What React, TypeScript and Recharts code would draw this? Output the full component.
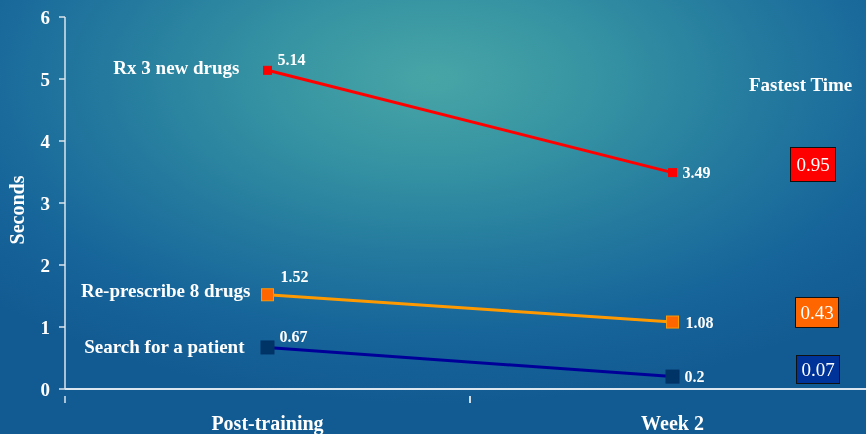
import React from "react";
import { LineChart, Line, XAxis, YAxis, Label, LabelList } from "recharts";

const categories = ["Post-training", "Week 2"];
const seriesNames = ["Rx 3 new drugs", "Re-prescribe 8 drugs", "Search for a patient"];
const rxValues = [5.14, 3.49];
const reValues = [1.52, 1.08];
const searchValues = [0.67, 0.2];
const fastestTimes = [0.95, 0.43, 0.07];
const yTicks = [0, 1, 2, 3, 4, 5, 6];

const data = categories.map((c, i) => ({
  cat: c,
  rx: rxValues[i],
  re: reValues[i],
  search: searchValues[i],
}));

const FONT = "'Liberation Serif', 'DejaVu Serif', serif";

const seriesStyle = [
  { key: "rx", stroke: "#ff0000", fill: "#ff0000", border: "#ff0000", size: 8, nameDx: -28, nameDy: -3, v0dx: 10, v0dy: -11, v1dx: 10 },
  { key: "re", stroke: "#ff9900", fill: "#ff6600", border: "#ff9900", size: 12, nameDx: -17, nameDy: -4, v0dx: 13, v0dy: -18, v1dx: 13 },
  { key: "search", stroke: "#000099", fill: "#003366", border: "#003366", size: 13, nameDx: -23, nameDy: -1, v0dx: 12, v0dy: -11, v1dx: 12 },
];

const boxStyles = [
  { bg: "#ff0000", left: 790, top: 147, w: 46, h: 35 },
  { bg: "#ff6600", left: 795, top: 297, w: 44, h: 31 },
  { bg: "#003399", left: 796, top: 355, w: 44, h: 29 },
];

const makeDot = (s: typeof seriesStyle[number]) => (props: any) => {
  const { cx, cy } = props;
  if (cx == null || cy == null) return <g />;
  const h = s.size / 2;
  return (
    <rect x={cx - h} y={cy - h} width={s.size} height={s.size} fill={s.fill} stroke={s.border} strokeWidth={1} />
  );
};

const makeLabel = (s: typeof seriesStyle[number], name: string) => (props: any) => {
  const { x, y, value, index } = props;
  if (index === 0) {
    return (
      <g>
        <text x={x + s.nameDx} y={y + s.nameDy} dy="0.35em" textAnchor="end" fill="#ffffff" fontFamily={FONT} fontWeight="bold" fontSize={19}>
          {name}
        </text>
        <text x={x + s.v0dx} y={y + s.v0dy} dy="0.35em" textAnchor="start" fill="#ffffff" fontFamily={FONT} fontWeight="bold" fontSize={16}>
          {value}
        </text>
      </g>
    );
  }
  return (
    <text x={x + s.v1dx} y={y} dy="0.35em" textAnchor="start" fill="#ffffff" fontFamily={FONT} fontWeight="bold" fontSize={16}>
      {value}
    </text>
  );
};

const XTick = (props: any) => {
  const { x, y, payload } = props;
  const half = 202.5;
  return (
    <g>
      <line x1={x - half} x2={x - half} y1={y - 1} y2={y + 6} stroke="#dbe6ee" strokeWidth={1.5} />
      <line x1={x + half} x2={x + half} y1={y - 1} y2={y + 6} stroke="#dbe6ee" strokeWidth={1.5} />
      <text x={x} y={y + 33} textAnchor="middle" fill="#ffffff" fontFamily={FONT} fontWeight="bold" fontSize={20}>
        {payload.value}
      </text>
    </g>
  );
};

const YTitle = (props: any) => {
  const vb = props.viewBox || {};
  const cy = (vb.y ?? 17) + (vb.height ?? 372) / 2 + 7;
  const cx = 17;
  return (
    <text
      x={cx}
      y={cy}
      transform={`rotate(-90, ${cx}, ${cy})`}
      textAnchor="middle"
      dominantBaseline="central"
      fill="#ffffff"
      fontFamily={FONT}
      fontWeight="bold"
      fontSize={20}
    >
      Seconds
    </text>
  );
};

export default function App() {
  return (
    <div
      style={{
        position: "fixed",
        left: 0,
        top: 0,
        width: 866,
        height: 434,
        overflow: "hidden",
        background:
          "radial-gradient(ellipse 70% 75% at 50% 18%, #48a5a6 0%, #3795a3 25%, #23799e 55%, #16649a 80%, #125b92 100%)",
      }}
    >
      <LineChart width={880} height={434} data={data} margin={{ top: 17, right: 5, bottom: 0, left: 0 }}>
        <XAxis
          dataKey="cat"
          axisLine={{ stroke: "#dbe6ee", strokeWidth: 2 }}
          tickLine={false}
          tick={<XTick />}
          height={45}
          interval={0}
          padding={{ left: 202.5, right: 202.5 }}
        />
        <YAxis
          domain={[0, 6]}
          ticks={yTicks}
          width={65}
          axisLine={{ stroke: "#dbe6ee", strokeWidth: 1.5 }}
          tickLine={{ stroke: "#dbe6ee", strokeWidth: 1.5 }}
          tickSize={6}
          tickMargin={9}
          tick={{ fill: "#ffffff", fontFamily: FONT, fontWeight: "bold", fontSize: 19 }}
        >
          <Label content={<YTitle />} position="insideLeft" />
        </YAxis>
        {seriesStyle.map((s, i) => (
          <Line
            key={s.key}
            dataKey={s.key}
            stroke={s.stroke}
            strokeWidth={3}
            dot={makeDot(s)}
            activeDot={false}
            isAnimationActive={false}
          >
            <LabelList dataKey={s.key} content={makeLabel(s, seriesNames[i])} />
          </Line>
        ))}
      </LineChart>
      <div
        style={{
          position: "absolute",
          left: 749,
          top: 74,
          width: 115,
          color: "#ffffff",
          fontFamily: FONT,
          fontWeight: "bold",
          fontSize: 19,
          whiteSpace: "nowrap",
        }}
      >
        Fastest Time
      </div>
      {fastestTimes.map((v, i) => (
        <div
          key={i}
          style={{
            position: "absolute",
            left: boxStyles[i].left,
            top: boxStyles[i].top,
            width: boxStyles[i].w,
            height: boxStyles[i].h,
            boxSizing: "border-box",
            background: boxStyles[i].bg,
            border: "1.5px solid #111111",
            color: "#ffffff",
            fontFamily: FONT,
            fontSize: 19,
            display: "flex",
            alignItems: "center",
            justifyContent: "center",
          }}
        >
          {v.toFixed(2)}
        </div>
      ))}
    </div>
  );
}
